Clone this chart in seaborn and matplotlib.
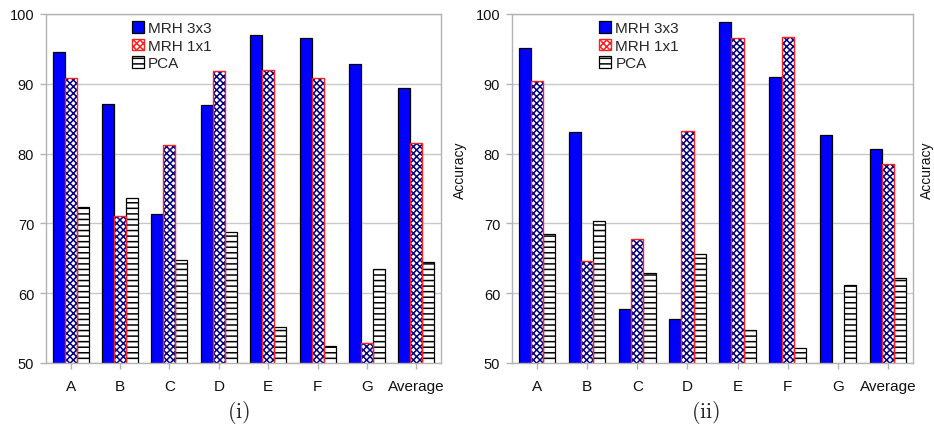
import numpy as np
import pandas as pd
import matplotlib
matplotlib.use("Agg")
import matplotlib.pyplot as plt
import matplotlib.patches as mpatches
import seaborn as sns

categories = ["A", "B", "C", "D", "E", "F", "G", "Average"]
series_names = ["MRH 3x3", "MRH 1x1", "PCA"]

# panel (i)
p1_mrh3 = [94.5, 87.1, 71.4, 86.9, 97.0, 96.6, 92.9, 89.4]
p1_mrh1 = [90.9, 71.1, 81.3, 91.9, 92.0, 90.9, 52.8, 81.5]
p1_pca = [72.3, 73.7, 64.8, 68.8, 55.1, 52.5, 63.4, 64.4]

# panel (ii)
p2_mrh3 = [95.1, 83.1, 57.8, 56.3, 98.8, 91.0, 82.6, 80.6]
p2_mrh1 = [90.4, 64.6, 67.7, 83.2, 96.6, 96.7, np.nan, 78.5]
p2_pca = [68.5, 70.4, 62.9, 65.6, 54.7, 52.2, 61.2, 62.2]

captions = ["(i)", "(ii)"]
y_ticks = [50, 60, 70, 80, 90, 100]

sns.set_theme(style="white")
plt.rcParams["font.family"] = ["Liberation Sans", "DejaVu Sans"]
plt.rcParams["mathtext.fontset"] = "cm"
plt.rcParams["hatch.linewidth"] = 1.1

BLUE = "#0000ff"
NAVY = "#000080"
RED = "#ff2020"
GRID = "#c8c8c8"
SPINE = "#b3b3b3"

fig = plt.figure(figsize=(9.34, 4.27), dpi=100)
H = 427.0
W = 934.0
ax1 = fig.add_axes([46 / W, (H - 364) / H, 395 / W, 349 / H])
ax2 = fig.add_axes([512 / W, (H - 364) / H, 401 / W, 349 / H])


def make_df(a, b, c):
    rows = []
    for name, vals in zip(series_names, [a, b, c]):
        for cat, v in zip(categories, vals):
            rows.append({"cat": cat, "series": name, "value": v})
    return pd.DataFrame(rows)


def draw(ax, a, b, c, caption, cx, label_dx):
    df = make_df(a, b, c)
    sns.barplot(data=df, x="cat", y="value", hue="series", order=categories,
                hue_order=series_names, width=0.73, gap=0, ax=ax,
                errorbar=None, legend=False, saturation=1)
    conts = ax.containers
    for p in conts[0]:
        p.set_facecolor(BLUE)
        p.set_edgecolor("black")
        p.set_linewidth(0.9)
    for p in conts[1]:
        p.set_facecolor("white")
        p.set_edgecolor(NAVY)
        p.set_hatch("xxxxx")
        p.set_linewidth(0)
        r = mpatches.Rectangle(p.get_xy(), p.get_width(), p.get_height(),
                               fill=False, edgecolor=RED, linewidth=1.0, zorder=p.get_zorder() + 0.1)
        ax.add_patch(r)
    for p in conts[2]:
        p.set_facecolor("white")
        p.set_edgecolor("black")
        p.set_hatch("---")
        p.set_linewidth(0.9)

    ax.set_ylim(50, 100)
    ax.set_xlim(-0.5, len(categories) - 0.5)
    ax.set_yticks(y_ticks)
    ax.set_axisbelow(True)
    ax.yaxis.grid(True, color=GRID, linewidth=1.0)
    ax.xaxis.grid(False)
    for s in ax.spines.values():
        s.set_visible(True)
        s.set_color(SPINE)
        s.set_linewidth(1.0)
    ax.tick_params(axis="both", which="both", direction="out", length=4.5,
                   color=SPINE, width=1.0, labelsize=10.5, labelcolor="#111111")
    ax.tick_params(axis="x", pad=7, bottom=True, labelsize=11)
    ax.tick_params(axis="y", pad=4, left=True)
    ax.set_xlabel("")
    ax.yaxis.set_label_position("right")
    ax.set_ylabel("Accuracy", fontsize=10, color="#111111")
    bbox = ax.get_position()
    ax.yaxis.set_label_coords(1 + label_dx / (bbox.width * W), (364 - 170) / 349)

    handles = [
        mpatches.Patch(facecolor=BLUE, edgecolor="black", linewidth=0.9),
        mpatches.Patch(facecolor="white", edgecolor=RED, hatch="xxxxx", linewidth=1.0),
        mpatches.Patch(facecolor="white", edgecolor="black", hatch="---", linewidth=0.9),
    ]
    ax.legend(handles, series_names, loc="upper left", bbox_to_anchor=(0.187, 1.015),
              frameon=False, fontsize=11, handlelength=0.8, handleheight=0.8,
              handletextpad=0.25, labelspacing=0.22, borderpad=0.3)

    fig.text(cx / W, 1 - 413 / H, r"$\mathrm{" + caption + "}$", ha="center", va="center",
             fontsize=16)


draw(ax1, p1_mrh3, p1_mrh1, p1_pca, captions[0], 239, 12)
draw(ax2, p2_mrh3, p2_mrh1, p2_pca, captions[1], 706, 7)

fig.savefig("out.png", dpi=100)
